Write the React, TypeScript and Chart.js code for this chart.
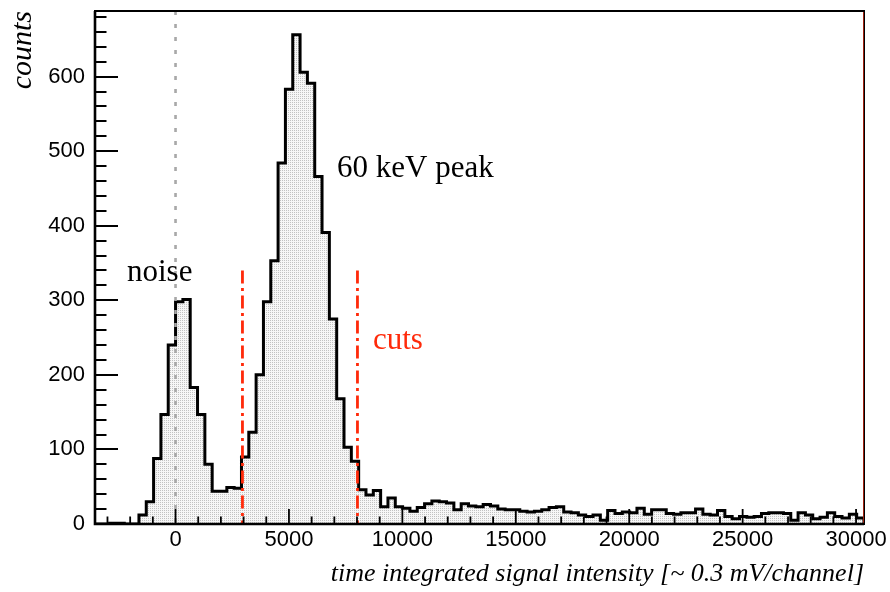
import { useEffect, useRef } from "react";
import { Chart, registerables } from "chart.js";

Chart.register(...registerables);

// ---- data ----
const X_MIN = -3550;
const X_MAX = 30350;
const Y_MAX = 688;

// histogram counts, 105 equal bins spanning X_MIN..X_MAX
const counts = [
  0, 0, 1, 1, 0, 0, 12, 30, 88, 147,
  240, 298, 301, 183, 147, 80, 44, 44, 49, 48,
  90, 123, 200, 298, 353, 484, 583, 656, 606, 591,
  466, 391, 275, 168, 103, 84, 46, 39, 45, 23,
  35, 23, 21, 17, 22, 27, 31, 30, 28, 19,
  27, 24, 23, 26, 24, 20, 19, 19, 17, 16,
  17, 19, 22, 23, 16, 15, 12, 10, 12, 5,
  18, 14, 16, 15, 21, 13, 19, 19, 14, 13,
  15, 15, 20, 13, 12, 18, 10, 7, 10, 9,
  10, 14, 15, 15, 14, 5, 15, 12, 7, 9,
  15, 10, 8, 13, 8,
];

const xTicks = [0, 5000, 10000, 15000, 20000, 25000, 30000];
const yTicks = [0, 100, 200, 300, 400, 500, 600];
const xMinorStep = 1000;
const xMajorStep = 5000;
const yMinorStep = 20;
const yMajorStep = 100;

const zeroLineX = 0;
const cutValues = [2950, 8020];
const cutTop = 340;

const annotationTexts = ["60 keV peak", "noise", "cuts"];
const annotationX = [7120, -2140, 8700];
const annotationY = [466, 326, 235];
const annotationColors = ["#000000", "#000000", "#ff2a0a"];

const xTitle = "time integrated signal intensity [~ 0.3 mV/channel]";
const yTitle = "counts";

const SANS = "'Liberation Sans', Arial, sans-serif";
const SERIF = "'Liberation Serif', 'Times New Roman', serif";
const RED = "#ff2a0a";

export default function App() {
  const canvasRef = useRef<HTMLCanvasElement | null>(null);

  useEffect(() => {
    const canvas = canvasRef.current;
    if (!canvas) return;

    // dotted fill pattern
    const pc = document.createElement("canvas");
    pc.width = 2;
    pc.height = 2;
    const pctx = pc.getContext("2d")!;
    pctx.fillStyle = "#f7f7f7";
    pctx.fillRect(0, 0, 2, 2);
    pctx.fillStyle = "#c2c2c2";
    pctx.fillRect(0, 0, 1, 1);
    const pattern = canvas.getContext("2d")!.createPattern(pc, "repeat");

    const binW = (X_MAX - X_MIN) / counts.length;
    const histPoints = counts.map((c, i) => ({ x: X_MIN + i * binW, y: c }));
    histPoints.push({ x: X_MAX, y: counts[counts.length - 1] });
    histPoints.push({ x: X_MAX, y: 0 });

    const decor = {
      id: "decor",
      afterDatasetsDraw(chart: any) {
        const { ctx, chartArea: a, scales } = chart;
        const xs = scales.x;
        const ys = scales.y;
        ctx.save();
        ctx.strokeStyle = "#000";
        // y ticks (inside, from left axis)
        ctx.lineWidth = 2;
        for (let v = 0; v <= Y_MAX; v += yMinorStep) {
          const py = Math.round(ys.getPixelForValue(v));
          const len = v % yMajorStep === 0 ? 23 : 11.5;
          ctx.beginPath();
          ctx.moveTo(a.left, py);
          ctx.lineTo(a.left + len, py);
          ctx.stroke();
        }
        // x ticks (inside, from bottom axis)
        ctx.lineWidth = 1.8;
        const startT = Math.ceil(X_MIN / xMinorStep) * xMinorStep;
        for (let v = startT; v <= X_MAX; v += xMinorStep) {
          const px = xs.getPixelForValue(v);
          const len = v % xMajorStep === 0 ? 15 : 7.5;
          ctx.beginPath();
          ctx.moveTo(px, a.bottom);
          ctx.lineTo(px, a.bottom - len);
          ctx.stroke();
        }
        // frame
        ctx.strokeStyle = "#000";
        ctx.lineWidth = 2;
        ctx.strokeRect(a.left, a.top, a.right - a.left, a.bottom - a.top);
        ctx.strokeStyle = "rgba(190,40,20,0.85)";
        ctx.lineWidth = 1;
        ctx.beginPath();
        ctx.moveTo(a.right - 0.5, a.top + 1);
        ctx.lineTo(a.right - 0.5, a.bottom - 1);
        ctx.stroke();
        ctx.strokeStyle = "#000";
        ctx.lineWidth = 2.6;
        ctx.beginPath();
        ctx.moveTo(a.left, a.top);
        ctx.lineTo(a.left, a.bottom);
        ctx.lineTo(a.right, a.bottom);
        ctx.stroke();

        // annotations
        ctx.textAlign = "left";
        ctx.textBaseline = "alphabetic";
        ctx.font = `31px ${SERIF}`;
        annotationTexts.forEach((t, i) => {
          ctx.fillStyle = annotationColors[i];
          ctx.fillText(t, xs.getPixelForValue(annotationX[i]), ys.getPixelForValue(annotationY[i]));
        });
        ctx.restore();
      },
    };

    const chart = new Chart(canvas, {
      type: "line",
      data: {
        datasets: [
          {
            label: "cut1",
            data: [
              { x: cutValues[0], y: cutTop },
              { x: cutValues[0], y: 0 },
            ],
            borderColor: RED,
            borderWidth: 2.8,
            borderDash: [13, 4.5, 3, 4.5],
            pointRadius: 0,
            fill: false,
            order: 0,
          },
          {
            label: "cut2",
            data: [
              { x: cutValues[1], y: cutTop },
              { x: cutValues[1], y: 0 },
            ],
            borderColor: RED,
            borderWidth: 2.8,
            borderDash: [13, 4.5, 3, 4.5],
            pointRadius: 0,
            fill: false,
            order: 0,
          },
          {
            label: "zero",
            data: [
              { x: zeroLineX, y: Y_MAX },
              { x: zeroLineX, y: 0 },
            ],
            borderColor: "#a8a8a8",
            borderWidth: 2.6,
            borderDash: [4, 9],
            pointRadius: 0,
            fill: false,
            order: 1,
          },
          {
            label: "hist",
            data: histPoints,
            stepped: "before",
            borderColor: "#000",
            borderWidth: 3,
            backgroundColor: pattern as any,
            fill: "origin",
            pointRadius: 0,
            tension: 0,
            order: 2,
          },
        ],
      },
      options: {
        animation: false,
        responsive: false,
        maintainAspectRatio: false,
        devicePixelRatio: 1,
        layout: { padding: { top: 11, right: 26, left: 0, bottom: 0 } },
        plugins: {
          legend: { display: false },
          tooltip: { enabled: false },
        },
        scales: {
          x: {
            type: "linear",
            min: X_MIN,
            max: X_MAX,
            afterBuildTicks: (s: any) => {
              s.ticks = xTicks.map((v) => ({ value: v }));
            },
            afterFit: (s: any) => {
              s.height = 68;
            },
            grid: { display: false, drawTicks: false },
            border: { display: false },
            ticks: {
              color: "#000",
              font: { family: SANS, size: 22 },
              padding: 3,
              maxRotation: 0,
              autoSkip: false,
              callback: (v: any) => String(v),
            },
            title: {
              display: true,
              text: xTitle,
              align: "end",
              color: "#000",
              font: { family: SERIF, style: "italic", size: 26 },
              padding: { top: 0, bottom: 2 },
            },
          },
          y: {
            type: "linear",
            min: 0,
            max: Y_MAX,
            afterBuildTicks: (s: any) => {
              s.ticks = yTicks.map((v) => ({ value: v }));
            },
            afterFit: (s: any) => {
              s.width = 95;
              s.paddingTop = 0;
              s.paddingBottom = 0;
            },
            grid: { display: false, drawTicks: false },
            border: { display: false },
            ticks: {
              color: "#000",
              font: { family: SANS, size: 22 },
              padding: 10,
              autoSkip: false,
              callback: (v: any) => String(v),
            },
            title: {
              display: true,
              text: yTitle,
              align: "end",
              color: "#000",
              font: { family: SERIF, style: "italic", size: 30 },
              padding: { top: 5, bottom: 0 },
            },
          },
        },
      },
      plugins: [decor],
    } as any);

    return () => chart.destroy();
  }, []);

  return (
    <div style={{ position: "fixed", left: 0, top: 0, width: 890, height: 592, background: "#fff" }}>
      <canvas ref={canvasRef} width={890} height={592} style={{ display: "block" }} />
    </div>
  );
}
